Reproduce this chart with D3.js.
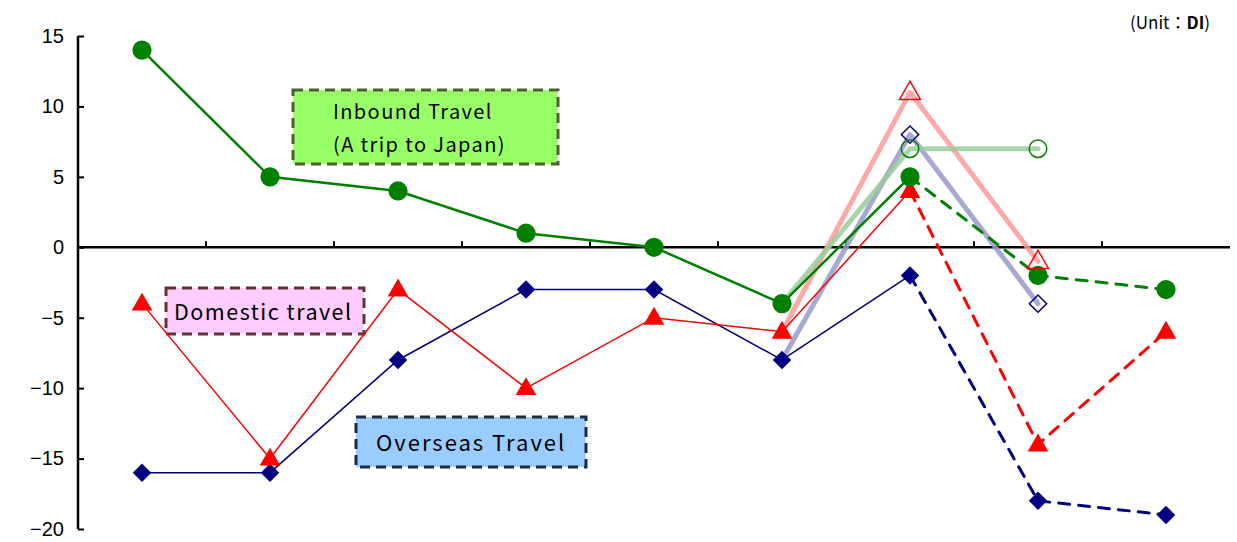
<!DOCTYPE html>
<html>
<head>
<meta charset="utf-8">
<script src="https://cdn.jsdelivr.net/npm/d3@7"></script>
<style>
body { margin: 0; background: #fff; }
svg { display: block; }
</style>
</head>
<body>
<svg id="chart" width="1237" height="542"></svg>
<script>
// periods (no labels are shown on the x axis)
var periods = [0, 1, 2, 3, 4, 5, 6, 7, 8];
var yTicks = [15, 10, 5, 0, -5, -10, -15, -20];

// actual values (solid up to index 6, dashed after)
var inbound  = [14, 5, 4, 1, 0, -4, 5, -2, -3];
var domestic = [-4, -15, -3, -10, -5, -6, 4, -14, -6];
var overseas = [-16, -16, -8, -3, -3, -8, -2, -18, -19];
var lastActual = 6;

// previous outlook (pale lines, hollow markers)
var inboundPrev  = [null, null, null, null, null, -4, 7, 7, null];
var domesticPrev = [null, null, null, null, null, -6, 11, -1, null];
var overseasPrev = [null, null, null, null, null, -8, 8, -4, null];

var svg = d3.select("#chart");

var x = d3.scaleBand().domain(periods).range([78, 1230]);
var y = d3.scaleLinear().domain([-20, 15]).range([529, 36]);
var cx = function (i) { return x(i) + x.bandwidth() / 2; };

// y axis
var yAxis = d3.axisLeft(y).tickValues(yTicks).tickSize(-6).tickPadding(14)
  .tickFormat(function (d) { return d < 0 ? "\u2212" + Math.abs(d) : d; });
var ya = svg.append("g").attr("transform", "translate(78,0)").call(yAxis);
ya.select(".domain").attr("stroke", "#000").attr("stroke-width", 2.5)
  .attr("d", "M0," + y(15) + "V" + y(-20));
ya.selectAll(".tick line").attr("stroke", "#000").attr("stroke-width", 2);
ya.selectAll(".tick text").attr("font-family", "Liberation Sans, Arial, sans-serif")
  .attr("font-size", 20).attr("fill", "#000");

// x axis at zero
var xAxisG = svg.append("g");
xAxisG.append("line").attr("x1", 78).attr("x2", 1230).attr("y1", y(0)).attr("y2", y(0))
  .attr("stroke", "#000").attr("stroke-width", 2.5);
xAxisG.selectAll(".xt").data(periods.slice(1)).enter().append("line")
  .attr("x1", function (d) { return x(d); }).attr("x2", function (d) { return x(d); })
  .attr("y1", y(0)).attr("y2", y(0) - 6).attr("stroke", "#000").attr("stroke-width", 2);

// annotation boxes
function box(x0, y0, w, h, fill, stroke, size, spacing, lines) {
  svg.append("rect").attr("x", x0).attr("y", y0).attr("width", w).attr("height", h)
    .attr("fill", fill).attr("stroke", stroke).attr("stroke-width", 3)
    .attr("stroke-dasharray", "10,6");
  var t = svg.append("text").attr("font-family", "Noto Sans CJK JP, sans-serif")
    .attr("font-size", size).attr("letter-spacing", spacing).attr("fill", "#000");
  lines.forEach(function (l) {
    t.append("tspan").attr("x", l[0]).attr("y", l[1]).text(l[2]);
  });
}
box(293, 90, 265, 74, "#99ff66", "#4f5f2f", 20, 1.4, [[333, 119, "Inbound Travel"], [333, 152, "(A trip to Japan)"]]);
box(166, 288, 198, 46, "#ffccff", "#663333", 21.5, 1.5, [[174, 320, "Domestic travel"]]);
box(356, 417, 230, 50, "#99ccff", "#1b2a45", 22, 2, [[376, 451, "Overseas Travel"]]);

var line = d3.line().defined(function (d) { return d.v !== null; })
  .x(function (d) { return cx(d.i); }).y(function (d) { return y(d.v); });
function pts(arr) { return arr.map(function (v, i) { return { i: i, v: v }; }); }

// pale previous-outlook lines
var prev = [
  { data: domesticPrev, color: "#ff9999", mark: "tri", stroke: "#ff0000" },
  { data: overseasPrev, color: "#9999cc", mark: "dia", stroke: "#000080" },
  { data: inboundPrev, color: "#99cc99", mark: "circ", stroke: "#008000" }
];
prev.forEach(function (s) {
  svg.append("path").attr("d", line(pts(s.data))).attr("fill", "none")
    .attr("stroke", s.color).attr("stroke-width", 5).attr("stroke-opacity", 0.85)
    .attr("stroke-linejoin", "round").attr("stroke-linecap", "round");
});

var actual = [
  { data: overseas, color: "#000080", width: 1.5, mark: "dia" },
  { data: domestic, color: "#ff0000", width: 1.5, mark: "tri" },
  { data: inbound, color: "#008000", width: 2.5, mark: "circ" }
];
actual.forEach(function (s) {
  var p = pts(s.data);
  svg.append("path").attr("d", line(p.slice(0, lastActual + 1))).attr("fill", "none")
    .attr("stroke", s.color).attr("stroke-width", s.width);
  svg.append("path").attr("d", line(p.slice(lastActual))).attr("fill", "none")
    .attr("stroke", s.color).attr("stroke-width", 3).attr("stroke-dasharray", "11,9")
    .attr("stroke-linecap", "round");
});

function marker(g, type, px, py, fill, stroke) {
  var sym = type === "circ" ? d3.symbolCircle : type === "tri" ? d3.symbolTriangle : d3.symbolSquare;
  var size = type === "circ" ? (stroke ? 240 : 290) : type === "tri" ? (stroke ? 190 : 185) : (stroke ? 150 : 170);
  var tr = "translate(" + px + "," + py + ")";
  if (type === "tri") tr += " translate(0,1)";
  if (type === "dia") tr += " rotate(45)";
  var m = g.append("path").attr("d", d3.symbol().type(sym).size(size)())
    .attr("transform", tr).attr("fill", fill);
  if (stroke) m.attr("stroke", stroke).attr("stroke-width", 1.5);
}

// actual markers
actual.forEach(function (s) {
  var g = svg.append("g");
  s.data.forEach(function (v, i) { marker(g, s.mark, cx(i), y(v), s.color, null); });
});

// hollow markers on previous outlook
prev.forEach(function (s) {
  var g = svg.append("g");
  s.data.forEach(function (v, i) {
    if (v !== null && i > lastActual - 1) marker(g, s.mark, cx(i), y(v), "none", s.stroke);
  });
});

var unit = svg.append("text").attr("x", 1210).attr("y", 29).attr("text-anchor", "end")
  .attr("font-family", "Noto Sans CJK JP, sans-serif").attr("font-size", 17).attr("fill", "#000");
unit.append("tspan").text("(Unit\uff1a");
unit.append("tspan").attr("font-weight", "bold").text("DI");
unit.append("tspan").text(")");
</script>
</body>
</html>
